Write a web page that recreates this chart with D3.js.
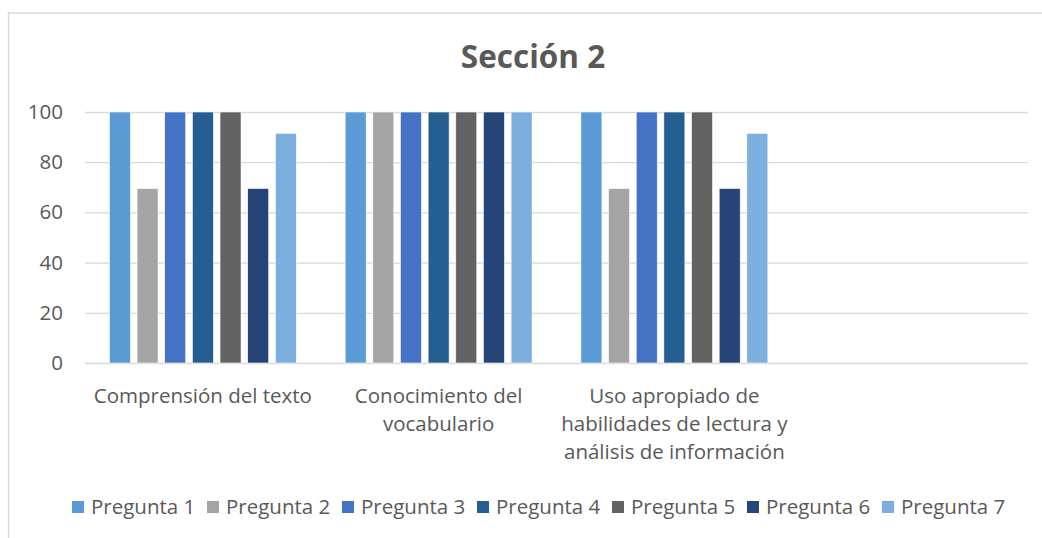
<!DOCTYPE html>
<html lang="es">

<head>
    <meta charset="UTF-8">
    <title>Sección 2</title>
    <script src="https://cdn.jsdelivr.net/npm/d3@7/dist/d3.min.js"></script>
    <style>
        body { margin: 0; background: #fff; }
        svg { display: block; font-family: 'Open Sans', sans-serif; }
    </style>
</head>

<body>
    <svg width="1042" height="538" id="mainsvg"></svg>
    <script>
        // data
        const title = 'Sección 2'
        const categories = ['Comprensión del texto', 'Conocimiento del vocabulario',
            'Uso apropiado de habilidades de lectura y análisis de información', '']
        const seriesNames = ['Pregunta 1', 'Pregunta 2', 'Pregunta 3', 'Pregunta 4', 'Pregunta 5', 'Pregunta 6', 'Pregunta 7']
        const pregunta1 = [100, 100, 100, null]
        const pregunta2 = [69.5, 100, 69.5, null]
        const pregunta3 = [100, 100, 100, null]
        const pregunta4 = [100, 100, 100, null]
        const pregunta5 = [100, 100, 100, null]
        const pregunta6 = [69.5, 100, 69.5, null]
        const pregunta7 = [91.5, 100, 91.5, null]
        const yTicks = [0, 20, 40, 60, 80, 100]
        const colors = ['#5b9bd5', '#a5a5a5', '#4472c4', '#255e91', '#636363', '#264478', '#7cafdd']

        const allSeries = [pregunta1, pregunta2, pregunta3, pregunta4, pregunta5, pregunta6, pregunta7]

        const svg = d3.select('#mainsvg')
        const textColor = '#595959'
        const margin = { top: 112, right: 14, bottom: 175, left: 85 }
        const innerWidth = 1042 - margin.left - margin.right
        const innerHeight = 538 - margin.top - margin.bottom

        // chart frame: only the left and top edges are inside the picture
        svg.append('path')
            .attr('d', 'M8.5,538 L8.5,13 L1042,13')
            .attr('fill', 'none').attr('stroke', '#d9d9d9').attr('stroke-width', 1.5)

        svg.append('text')
            .attr('x', 533).attr('y', 68)
            .attr('text-anchor', 'middle')
            .attr('font-size', 31.5).attr('font-weight', 'bold')
            .attr('fill', textColor)
            .text(title)

        const g = svg.append('g').attr('transform', `translate(${margin.left}, ${margin.top})`)

        const yScale = d3.scaleLinear().domain([0, 100]).range([innerHeight, 0])
        const x0 = d3.scaleBand().domain(categories).range([0, innerWidth])
            .paddingInner(0.207).paddingOuter(0.1035)
        const x1 = d3.scaleBand().domain(seriesNames).range([0, x0.bandwidth()]).paddingInner(0.24)
        const color = d3.scaleOrdinal().domain(seriesNames).range(colors)

        // gridlines
        g.append('g')
            .call(d3.axisLeft(yScale).tickValues(yTicks).tickSize(-innerWidth).tickFormat(''))
            .call(a => a.select('.domain').remove())
            .call(a => a.selectAll('text').remove())
            .call(a => a.selectAll('line').attr('stroke', '#d9d9d9').attr('stroke-width', 1.3))

        // y labels
        g.append('g')
            .call(d3.axisLeft(yScale).tickValues(yTicks).tickSize(0).tickPadding(22))
            .call(a => a.select('.domain').remove())
            .call(a => a.selectAll('text').attr('font-size', 20.5).attr('fill', textColor)
                .attr('font-family', "'Open Sans', sans-serif"))

        // bars
        const rows = categories.map((c, i) => ({ cat: c, vals: seriesNames.map((s, j) => ({ key: s, value: allSeries[j][i] })) }))
        g.selectAll('.grp').data(rows).join('g')
            .attr('class', 'grp')
            .attr('transform', d => `translate(${x0(d.cat)},0)`)
            .selectAll('rect').data(d => d.vals.filter(v => v.value != null)).join('rect')
            .attr('x', d => x1(d.key))
            .attr('y', d => yScale(d.value))
            .attr('width', x1.bandwidth())
            .attr('height', d => innerHeight - yScale(d.value))
            .attr('fill', d => color(d.key))
            .attr('stroke', '#ffffff').attr('stroke-width', 0.6)

        // x labels with wrapping
        const xAxisG = g.append('g').attr('transform', `translate(0, ${innerHeight})`)
            .call(d3.axisBottom(x0).tickSize(0).tickPadding(25))
        xAxisG.select('.domain').remove()
        xAxisG.selectAll('.tick').filter(d => d === '').remove()
        xAxisG.selectAll('text').attr('font-size', 20.5).attr('fill', textColor)
            .attr('font-family', "'Open Sans', sans-serif")
            .call(wrap, 240)

        function wrap(texts, width) {
            texts.each(function () {
                const text = d3.select(this)
                const words = text.text().split(/\s+/).filter(w => w)
                const y = text.attr('y')
                const dy = parseFloat(text.attr('dy'))
                text.text(null)
                let line = []
                let lineNo = 0
                let tspan = text.append('tspan').attr('x', 0).attr('y', y).attr('dy', dy + 'em')
                for (const w of words) {
                    line.push(w)
                    tspan.text(line.join(' '))
                    if (tspan.node().getComputedTextLength() > width && line.length > 1) {
                        line.pop()
                        tspan.text(line.join(' '))
                        line = [w]
                        lineNo++
                        tspan = text.append('tspan').attr('x', 0).attr('y', y)
                            .attr('dy', (lineNo * 1.37 + dy) + 'em').text(w)
                    }
                }
            })
        }

        // legend
        const legend = svg.append('g').attr('transform', 'translate(72, 507)')
        const itemStep = 135
        const items = legend.selectAll('g').data(seriesNames).join('g')
            .attr('transform', (d, i) => `translate(${i * itemStep}, 0)`)
        items.append('rect')
            .attr('x', 0).attr('y', -6).attr('width', 12).attr('height', 12)
            .attr('fill', d => color(d))
        items.append('text')
            .attr('x', 19).attr('y', 0).attr('dy', '0.35em')
            .attr('font-size', 20.5).attr('fill', textColor)
            .text(d => d)
    </script>
</body>

</html>
